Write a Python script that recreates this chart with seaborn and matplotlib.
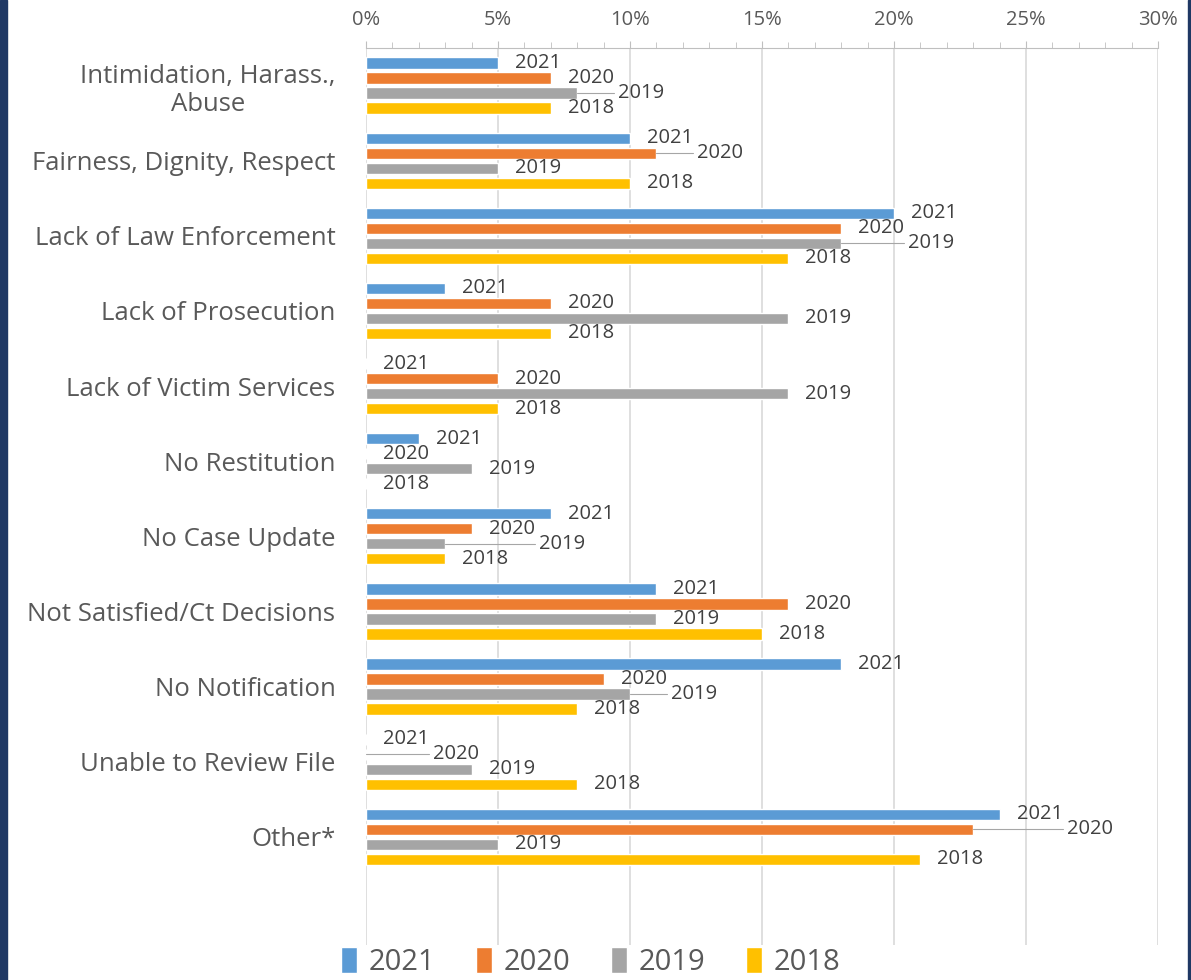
import pandas as pd
import matplotlib.pyplot as plt
import matplotlib.ticker as mticker
from matplotlib.patches import Rectangle
import seaborn as sns

categories = [
    'Intimidation, Harass.,\nAbuse',
    'Fairness, Dignity, Respect',
    'Lack of Law Enforcement',
    'Lack of Prosecution',
    'Lack of Victim Services',
    'No Restitution',
    'No Case Update',
    'Not Satisfied/Ct Decisions',
    'No Notification',
    'Unable to Review File',
    'Other*',
]
years = ['2021', '2020', '2019', '2018']
pct_2021 = [5, 10, 20, 3, 0, 2, 7, 11, 18, 0, 24]
pct_2020 = [7, 11, 18, 7, 5, 0, 4, 16, 9, 0, 23]
pct_2019 = [8, 5, 18, 16, 16, 4, 3, 11, 10, 4, 5]
pct_2018 = [7, 10, 16, 7, 5, 0, 3, 15, 8, 8, 21]
colors = ['#5B9BD5', '#ED7D31', '#A5A5A5', '#FFC000']

series = dict(zip(years, [pct_2021, pct_2020, pct_2019, pct_2018]))
df = pd.DataFrame([
    {'category': c, 'year': y, 'pct': v}
    for y in years
    for c, v in zip(categories, series[y])
])

sns.set_style('white')
plt.rcParams['font.family'] = ['Open Sans', 'DejaVu Sans']

fig = plt.figure(figsize=(11.91, 9.8), dpi=100)
ax = fig.add_axes([366 / 1191, 35 / 980, 792 / 1191, 897 / 980])

sns.barplot(
    data=df, x='pct', y='category', hue='year',
    order=categories, hue_order=years, palette=colors,
    orient='h', width=0.8, gap=0.25, saturation=1, ax=ax,
)

ax.set_xlim(0, 30)
ax.set_ylim(11.44, -0.5)

# data labels: year name right of each bar, pushed right (with a leader
# line) when it would run into the label of the bar above it
renderer = fig.canvas.get_renderer()
px_per_unit = ax.transData.transform((1, 0))[0] - ax.transData.transform((0, 0))[0]
pad = 17 / px_per_unit
gap_px = 4
for i in range(len(categories)):
    prev = None
    for cont, year in zip(ax.containers, years):
        bar = cont.patches[i]
        val = bar.get_width()
        yc = bar.get_y() + bar.get_height() / 2
        x = val + pad
        txt = ax.text(x, yc, year, fontsize=14.5, color='#404040',
                      va='center', ha='left')
        bb = txt.get_window_extent(renderer)
        if prev is not None and bb.x0 < prev.x1 and bb.x1 > prev.x0:
            x = x + (prev.x1 + gap_px - bb.x0) / px_per_unit
            txt.set_x(x)
            ax.plot([val, x - 0.15], [yc, yc], color='#A6A6A6', lw=0.8)
            bb = txt.get_window_extent(renderer)
        prev = bb

ax.xaxis.set_major_locator(mticker.MultipleLocator(5))
ax.xaxis.set_minor_locator(mticker.MultipleLocator(1))
ax.xaxis.set_major_formatter(mticker.FuncFormatter(lambda v, _: f'{v:.0f}%'))
ax.xaxis.tick_top()
ax.tick_params(axis='x', which='both', direction='out', top=True, bottom=False,
               color='#BFBFBF', labelsize=14.5, labelcolor='#595959', pad=8)
ax.tick_params(axis='x', which='major', length=5)
ax.tick_params(axis='x', which='minor', length=4)
ax.tick_params(axis='y', length=0, labelsize=18.5, labelcolor='#595959', pad=22)
for lbl in ax.get_yticklabels():
    lbl.set_horizontalalignment('right')
    lbl.set_multialignment('center')
ax.grid(axis='x', color='#D9D9D9', linewidth=1.2)
ax.set_axisbelow(True)
for side in ['bottom', 'right', 'left']:
    ax.spines[side].set_visible(False)
ax.spines['top'].set_color('#BFBFBF')
ax.set_xlabel('')
ax.set_ylabel('')

handles, labels = ax.get_legend_handles_labels()
ax.get_legend().remove()
fig.legend(handles, labels, loc='center', bbox_to_anchor=(0.496, 0.018),
           ncol=4, frameon=False, fontsize=21, labelcolor='#595959',
           handlelength=0.55, handleheight=1.0, handletextpad=0.4,
           columnspacing=1.4)

navy = '#1F3864'
fig.patches.append(Rectangle((0, 0), 7 / 1191, 1, transform=fig.transFigure,
                             color=navy, zorder=10))
fig.patches.append(Rectangle((1188 / 1191, 0), 3 / 1191, 1,
                             transform=fig.transFigure, color=navy, zorder=10))

fig.savefig('out.png', dpi=100, facecolor='white')
